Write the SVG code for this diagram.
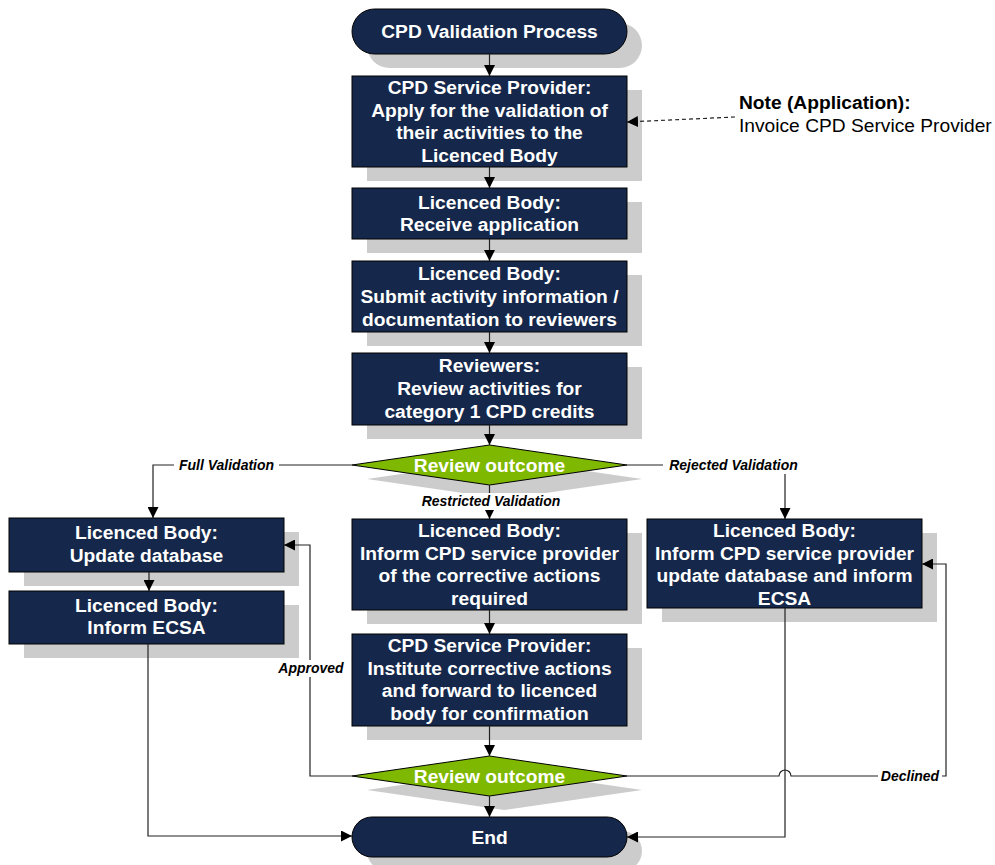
<svg xmlns="http://www.w3.org/2000/svg" width="995" height="865" viewBox="0 0 995 865">
<defs>
<marker id="arr" markerWidth="11" markerHeight="11" refX="11" refY="5.5" orient="auto" markerUnits="userSpaceOnUse">
<path d="M0,0 L11,5.5 L0,11 z" fill="#000"/>
</marker>
<style>
.sh{fill:#cccccc}
.box{fill:#15284b;stroke:#000;stroke-width:1}
.dia{fill:#7fb800;stroke:#000;stroke-width:1}
.t{font-family:"Liberation Sans",Arial,sans-serif;font-weight:bold;font-size:19.2px;fill:#fff;text-anchor:middle}
.c{fill:none;stroke:#222;stroke-width:1.2}
.ca{fill:none;stroke:#222;stroke-width:1.2;marker-end:url(#arr)}
.lbl{font-family:"Liberation Sans",Arial,sans-serif;font-weight:bold;font-style:italic;font-size:14px;fill:#000;text-anchor:middle}
.bg{fill:#fff}
.note{font-family:"Liberation Sans",Arial,sans-serif;font-size:19.2px;fill:#000}
</style>
</defs>
<rect width="995" height="865" fill="#fff"/>

<g id="start">
<rect class="sh" x="367" y="23" width="275" height="45" rx="22.5"/>
<rect class="box" x="352" y="9" width="275" height="45" rx="22.5"/>
<text class="t" x="489.5" y="38">CPD Validation Process</text>
</g>

<g id="apply">
<rect class="sh" x="367" y="90" width="275" height="91"/>
<rect class="box" x="352" y="76" width="275" height="91"/>
<text class="t" x="489.5" y="94">CPD Service Provider:</text>
<text class="t" x="489.5" y="116.7">Apply for the validation of</text>
<text class="t" x="489.5" y="139.4">their activities to the</text>
<text class="t" x="489.5" y="162.1">Licenced Body</text>
</g>

<g id="receive">
<rect class="sh" x="367" y="202" width="275" height="51"/>
<rect class="box" x="352" y="188" width="275" height="51"/>
<text class="t" x="489.5" y="208.5">Licenced Body:</text>
<text class="t" x="489.5" y="231.2">Receive application</text>
</g>

<g id="submit">
<rect class="sh" x="367" y="275" width="275" height="71"/>
<rect class="box" x="352" y="261" width="275" height="71"/>
<text class="t" x="489.5" y="280.3">Licenced Body:</text>
<text class="t" x="489.5" y="303">Submit activity information /</text>
<text class="t" x="489.5" y="325.7">documentation to reviewers</text>
</g>

<g id="review">
<rect class="sh" x="367" y="367" width="275" height="72"/>
<rect class="box" x="352" y="353" width="275" height="72"/>
<text class="t" x="489.5" y="372.3">Reviewers:</text>
<text class="t" x="489.5" y="395">Review activities for</text>
<text class="t" x="489.5" y="417.7">category 1 CPD credits</text>
</g>

<g id="outcome1">
<polygon class="sh" points="367,479 504,459 642,479 504,499"/>
<polygon class="dia" points="352,465 489.5,445 627,465 489.5,485"/>
<text class="t" x="489.5" y="471.5">Review outcome</text>
</g>

<g id="update">
<rect class="sh" x="24" y="532" width="275" height="54"/>
<rect class="box" x="9" y="518" width="275" height="54"/>
<text class="t" x="146.5" y="539">Licenced Body:</text>
<text class="t" x="146.5" y="561.7">Update database</text>
</g>

<g id="informEcsa">
<rect class="sh" x="24" y="605" width="275" height="53"/>
<rect class="box" x="9" y="591" width="275" height="53"/>
<text class="t" x="146.5" y="611.5">Licenced Body:</text>
<text class="t" x="146.5" y="634.2">Inform ECSA</text>
</g>

<g id="corrective">
<rect class="sh" x="367" y="533" width="275" height="91"/>
<rect class="box" x="352" y="519" width="275" height="91"/>
<text class="t" x="489.5" y="537">Licenced Body:</text>
<text class="t" x="489.5" y="559.7">Inform CPD service provider</text>
<text class="t" x="489.5" y="582.4">of the corrective actions</text>
<text class="t" x="489.5" y="605.1">required</text>
</g>

<g id="rejected">
<rect class="sh" x="662" y="533" width="275" height="89"/>
<rect class="box" x="647" y="519" width="275" height="89"/>
<text class="t" x="784.5" y="537">Licenced Body:</text>
<text class="t" x="784.5" y="559.7">Inform CPD service provider</text>
<text class="t" x="784.5" y="582.4">update database and inform</text>
<text class="t" x="784.5" y="605.1">ECSA</text>
</g>

<g id="institute">
<rect class="sh" x="367" y="648" width="275" height="92"/>
<rect class="box" x="352" y="634" width="275" height="92"/>
<text class="t" x="489.5" y="652">CPD Service Provider:</text>
<text class="t" x="489.5" y="674.7">Institute corrective actions</text>
<text class="t" x="489.5" y="697.4">and forward to licenced</text>
<text class="t" x="489.5" y="720.1">body for confirmation</text>
</g>

<g id="outcome2">
<polygon class="sh" points="367,790 504,770 642,790 504,810"/>
<polygon class="dia" points="352,776 489.5,756 627,776 489.5,796"/>
<text class="t" x="489.5" y="782.5">Review outcome</text>
</g>

<g id="end">
<rect class="sh" x="367" y="831" width="275" height="40" rx="20"/>
<rect class="box" x="352" y="817" width="275" height="40" rx="20"/>
<text class="t" x="489.5" y="843.5">End</text>
</g>

<g id="note">
<text class="note" x="739" y="109" font-weight="bold">Note (Application):</text>
<text class="note" x="739" y="132">Invoice CPD Service Provider</text>
</g>

<g id="connectors">
<line class="ca" x1="489.5" y1="54" x2="489.5" y2="76"/>
<line class="ca" x1="489.5" y1="167" x2="489.5" y2="188"/>
<line class="ca" x1="489.5" y1="239" x2="489.5" y2="261"/>
<line class="ca" x1="489.5" y1="332" x2="489.5" y2="353"/>
<line class="ca" x1="489.5" y1="425" x2="489.5" y2="445"/>
<line class="ca" x1="489.5" y1="485" x2="489.5" y2="519"/>
<line class="ca" x1="489.5" y1="610" x2="489.5" y2="634"/>
<line class="ca" x1="489.5" y1="726" x2="489.5" y2="756"/>
<line class="ca" x1="489.5" y1="796" x2="489.5" y2="817"/>
<path class="ca" d="M352,465 H153 V518"/>
<path class="ca" d="M627,465 H785 V519"/>
<line class="ca" x1="149" y1="572" x2="149" y2="591"/>
<path class="ca" d="M148,644 V836 H352"/>
<path class="ca" d="M785,608 V837 H627"/>
<path class="ca" d="M352,776 H310 V545 H284"/>
<path class="ca" d="M627,776 H779 A6,6 0 0 1 791,776 H946 V564 H922"/>
<path class="ca" d="M735,117 L627,122" stroke-dasharray="4,3"/>
<rect class="bg" x="174" y="457" width="105" height="17"/>
<text class="lbl" x="226.5" y="470">Full Validation</text>
<rect class="bg" x="663" y="457" width="141" height="17"/>
<text class="lbl" x="733.5" y="470">Rejected Validation</text>
<rect class="bg" x="417" y="493" width="148" height="17"/>
<text class="lbl" x="491" y="506">Restricted Validation</text>
<rect class="bg" x="275" y="660" width="72" height="17"/>
<text class="lbl" x="311" y="673">Approved</text>
<rect class="bg" x="878" y="768" width="64" height="17"/>
<text class="lbl" x="910" y="781">Declined</text>
</g>
</svg>
